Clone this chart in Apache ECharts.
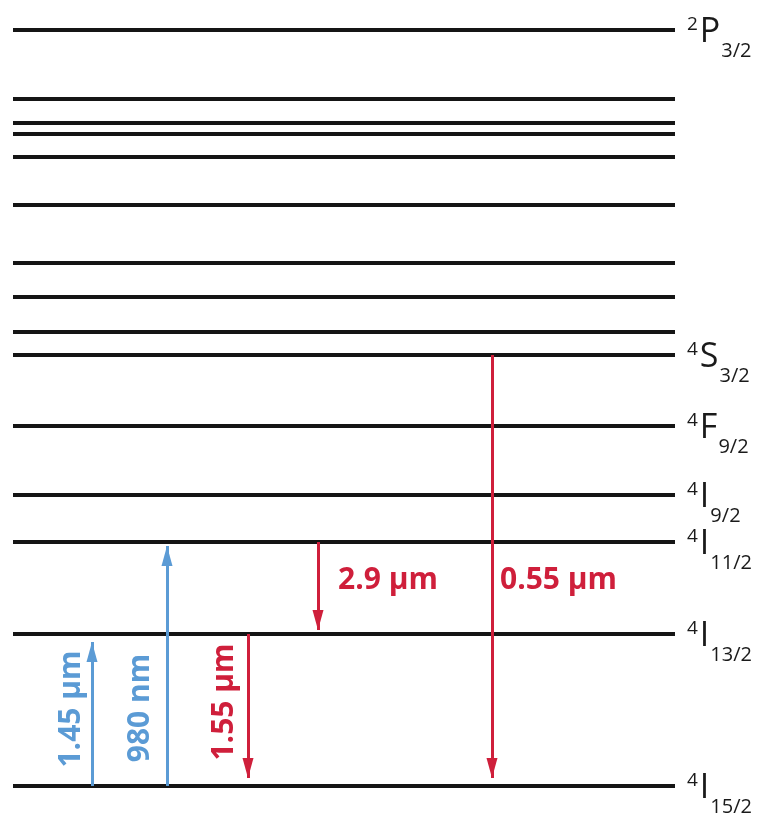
<!DOCTYPE html>
<html>
<head>
<meta charset="utf-8">
<script src="https://cdn.jsdelivr.net/npm/echarts@6/dist/echarts.min.js"></script>
<style>
html,body{margin:0;padding:0;background:#fff;}
#chart{width:765px;height:813px;}
</style>
</head>
<body>
<div id="chart"></div>
<script>
// Energy levels (arbitrary units, ground state = 0)
const levelEnergies = [756, 687, 663, 652, 629, 581, 523, 489, 454, 431, 360, 291, 244, 152, 0];
// Term symbols: [multiplicity, letter, J]; null = unlabelled level
const levelTerms = [
  ['2', 'P', '3/2'], null, null, null, null, null, null, null, null,
  ['4', 'S', '3/2'], ['4', 'F', '9/2'], ['4', 'I', '9/2'],
  ['4', 'I', '11/2'], ['4', 'I', '13/2'], ['4', 'I', '15/2']
];

// Transitions
const arrowNames = ['1.45 µm', '980 nm', '1.55 µm', '2.9 µm', '0.55 µm'];
const arrowFrom  = [0, 0, 152, 244, 431];
const arrowTo    = [144, 240, 8, 156, 8];
const arrowPosX  = [79, 154, 235, 305, 479];

// ---- layout / styling (not data) ----
const X_MAX = 662;
const BLUE = '#5b9bd5';
const RED = '#cf1f3b';
// screen-pixel offsets of each transition label from the arrow midpoint
const arrowLabelLayout = [
  { sx: -21, sy: -5,  rotate: 90, align: 'center' },
  { sx: -27, sy: 42,  rotate: 90, align: 'center' },
  { sx: -24, sy: -4,  rotate: 90, align: 'center' },
  { sx: 20,  sy: -6,  rotate: 0,  align: 'left' },
  { sx: 8,   sy: 14,  rotate: 0,  align: 'left' }
];

const levelLineData = levelEnergies.map(e => ({ coords: [[0, e], [X_MAX, e]] }));

const shaftData = arrowNames.map((n, i) => ({
  coords: [[arrowPosX[i], arrowFrom[i]], [arrowPosX[i], arrowTo[i]]],
  lineStyle: { color: arrowTo[i] > arrowFrom[i] ? BLUE : RED }
}));

const headData = arrowNames.map((n, i) => {
  const up = arrowTo[i] > arrowFrom[i];
  return {
    value: [arrowPosX[i], arrowTo[i]],
    symbol: up ? 'path://M5,0L10,20L0,20Z' : 'path://M0,0L10,0L5,20Z',
    symbolOffset: up ? [0, 10] : [0, -10],
    itemStyle: { color: up ? BLUE : RED, opacity: 1 }
  };
});

const levelLabelData = [];
levelEnergies.forEach((e, i) => {
  const t = levelTerms[i];
  if (!t) return;
  levelLabelData.push({
    value: [X_MAX, e],
    label: { formatter: '{sup|' + t[0] + '}{main|' + t[1] + '}{sub|' + t[2] + '}' }
  });
});

const arrowLabelData = arrowNames.map((n, i) => {
  const up = arrowTo[i] > arrowFrom[i];
  const L = arrowLabelLayout[i];
  // label offset is applied in the label's rotated frame
  const off = L.rotate === 90 ? [-L.sy, L.sx] : [L.sx, L.sy];
  return {
    value: [arrowPosX[i], (arrowFrom[i] + arrowTo[i]) / 2],
    label: {
      formatter: n,
      color: up ? BLUE : RED,
      rotate: L.rotate,
      align: L.align,
      offset: off
    }
  };
});

const chart = echarts.init(document.getElementById('chart'), null, { renderer: 'canvas' });
chart.setOption({
  animation: false,
  backgroundColor: '#ffffff',
  grid: { left: 13, right: 90, top: 30, bottom: 27, containLabel: false },
  xAxis: { type: 'value', min: 0, max: X_MAX, show: false },
  yAxis: { type: 'value', min: 0, max: 756, show: false },
  series: [
    {
      type: 'lines', coordinateSystem: 'cartesian2d', polyline: false,
      data: levelLineData, silent: true,
      lineStyle: { color: '#151515', width: 4, opacity: 1 }
    },
    {
      type: 'lines', coordinateSystem: 'cartesian2d', polyline: false,
      data: shaftData, silent: true, z: 3,
      lineStyle: { width: 3, opacity: 1 }
    },
    {
      type: 'scatter', data: headData, symbolSize: [11, 20], symbolKeepAspect: false,
      silent: true, z: 4, itemStyle: { opacity: 1 }
    },
    {
      type: 'scatter', data: levelLabelData, symbolSize: 0, silent: true,
      itemStyle: { opacity: 1 },
      label: {
        show: true, position: 'right', distance: 0, offset: [12, 8.5],
        color: '#1a1a1a', fontFamily: 'Open Sans',
        rich: {
          sup: { fontSize: 19, verticalAlign: 'top', padding: [0, 2, 0, 0], fontFamily: 'Open Sans', color: '#1a1a1a' },
          main: { fontSize: 34, verticalAlign: 'top', fontFamily: 'Open Sans', color: '#1a1a1a' },
          sub: { fontSize: 20, verticalAlign: 'top', padding: [26, 0, 0, 1], fontFamily: 'Open Sans', color: '#1a1a1a' }
        }
      }
    },
    {
      type: 'scatter', data: arrowLabelData, symbolSize: 0, silent: true, z: 5,
      itemStyle: { opacity: 1 },
      label: {
        show: true, position: 'inside', verticalAlign: 'middle',
        fontFamily: 'Open Sans', fontWeight: 'bold', fontSize: 30
      }
    }
  ]
});
</script>
</body>
</html>
